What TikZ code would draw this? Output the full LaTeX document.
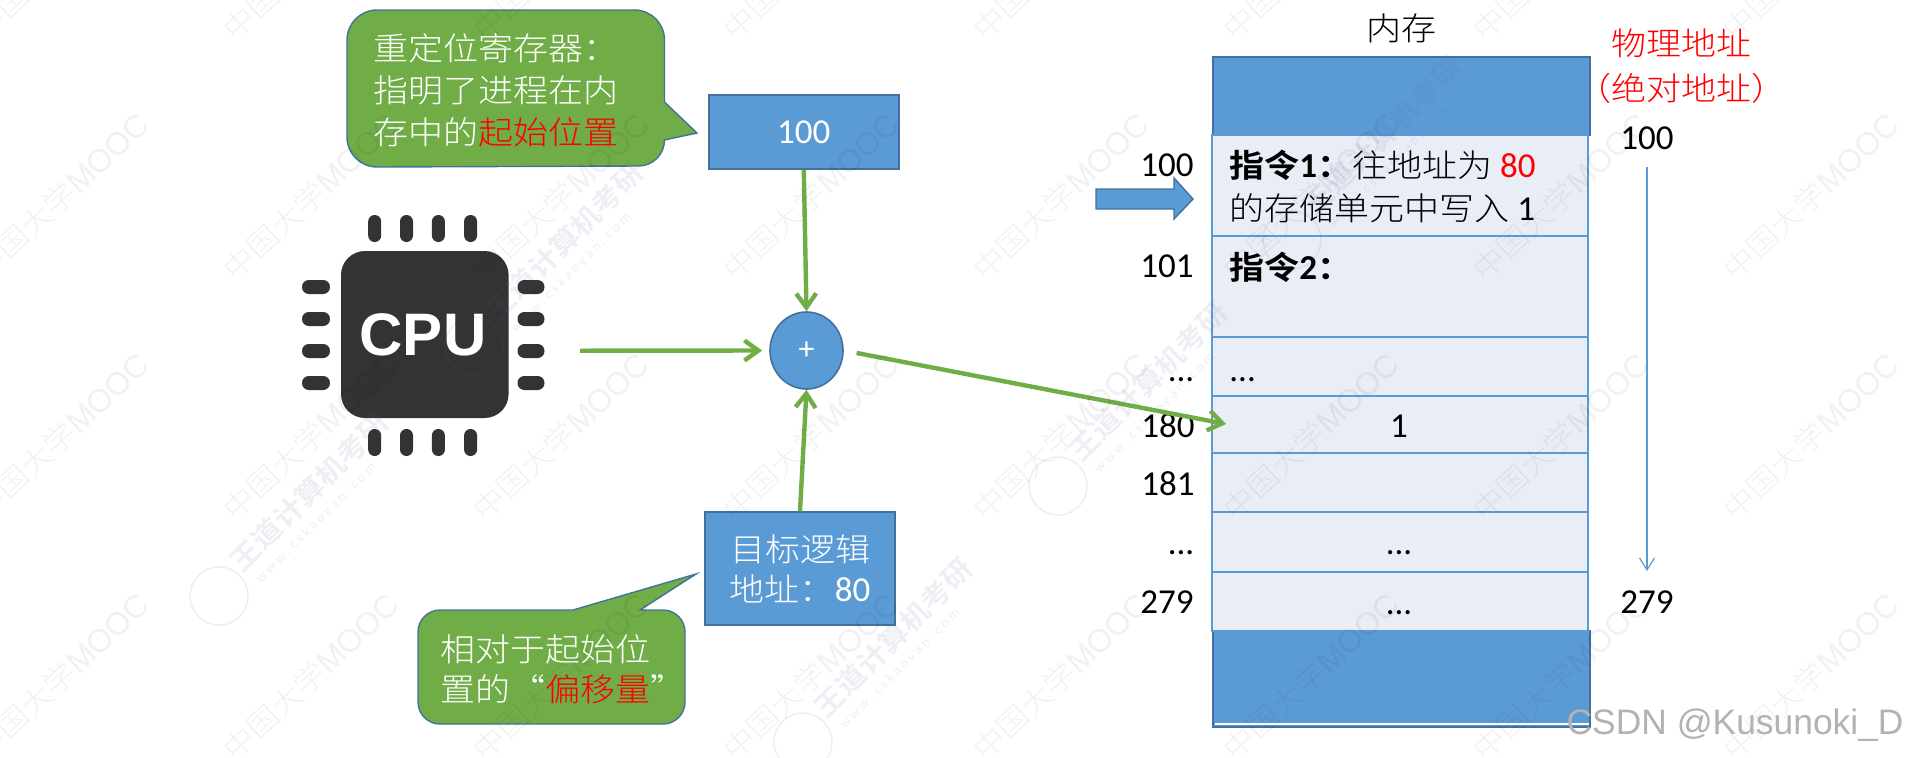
\documentclass[tikz,border=0pt]{standalone}
\usepackage{fontspec}
\setmainfont{Carlito}
\newfontfamily\cjk[Scale=0.914,FakeStretch=1.094,UprightFont={* Light},BoldFont={* Bold}]{Noto Sans CJK SC}
\newfontfamily\arialfont{Liberation Sans}
\usetikzlibrary{arrows.meta, shapes.geometric}
\definecolor{pptblue}{HTML}{5B9BD5}
\definecolor{pptedge}{HTML}{41719C}
\definecolor{pptgreen}{HTML}{70AD47}
\definecolor{celllight}{HTML}{E9EDF6}
\definecolor{chipdark}{HTML}{333333}
\definecolor{markblue}{HTML}{5A64A0}

\begin{document}
\begin{tikzpicture}[
        x=0.5pt, y=-0.5pt,
        txt/.style={font=\fontsize{17.5}{21}\selectfont, align=left, inner sep=0pt},
        numlbl/.style={txt, anchor=base},
        bluebox/.style={rectangle, draw=pptedge, fill=pptblue, line width=0.8pt, text=white, inner sep=0pt, align=center, font=\fontsize{17.5}{20}\selectfont},
        memcell/.style={rectangle, draw=pptblue, fill=celllight, line width=1pt, minimum width=188pt, inner sep=0pt},
        memblock/.style={rectangle, fill=pptblue, draw=pptedge, line width=1pt, minimum width=188.3pt, inner sep=0pt},
        bubble/.style={draw=pptedge, fill=pptgreen, line width=0.7pt},
        adder/.style={ellipse, draw=pptedge, fill=pptblue, line width=0.8pt, minimum width=36.5pt, minimum height=38.5pt, inner sep=0pt, text=white, font=\fontsize{16}{16}\selectfont},
        wire/.style={draw=pptgreen, line width=2.2pt, -{Straight Barb[length=7pt, width=10pt]}},
        watermark/.style={text=black, text opacity=0.055, rotate=43, inner sep=0pt, font=\fontsize{16}{16}\selectfont},
        logomark/.style={text=markblue, text opacity=0.1, rotate=45, inner sep=0pt, anchor=west, font=\fontsize{15}{15}\selectfont},
    ]
    \path[use as bounding box, clip] (0,0) rectangle (1907,757);

    \node[memblock, minimum height=39pt] (memtop) at (1401.7,96) {};
    \node[memblock, minimum height=48pt] (membot) at (1401.7,678.5) {};
    \draw[white, line width=0.6pt] (1215,724) -- (1589,724);
    \foreach \name/\ya/\yb in {c100/135/236, c101/236/337, cdots/337/395.7, c180/395.7/453, c181/453/512, cmore/512/571.7, c279/571.7/630.7}
        \node[memcell, minimum height={(\yb-\ya)*0.5pt}] (\name) at (1400,{(\ya+\yb)/2}) {};

    \node[txt, text=black] (memname) at (1401.7,28) {{\cjk 内存}};
    \node[txt, text=red, align=center] (physname) at (1681,66) {{\cjk 物理地址}\\[1.5pt]{\cjk （绝对地址）}};

    \node[txt, anchor=west, font=\fontsize{17.5}{21.5}\selectfont] (instr1) at (1229,186.5) {\textbf{{\cjk\bfseries 指令}1{\cjk\bfseries ：}}{\cjk 往地址为} \textcolor{red}{80}\\{\cjk 的存储单元中写入} 1};
    \node[txt, anchor=west] (instr2) at (1229,267) {\textbf{{\cjk\bfseries 指令}2{\cjk\bfseries ：}}};
    \node[txt, anchor=base west] (celldots) at (1229,381) {...};
    \node[numlbl] (cellone) at (1399,437) {1};
    \node[numlbl] (moredots) at (1399,554) {...};
    \node[numlbl] (lastdots) at (1399,614) {...};

    \node[numlbl] (lbl100) at (1167,176) {100};
    \node[numlbl] (lbl101) at (1167,277) {101};
    \node[numlbl] (lbldots) at (1181,381) {...};
    \node[numlbl] (lbl180) at (1168,437) {180};
    \node[numlbl] (lbl181) at (1168,495) {181};
    \node[numlbl] (lblmore) at (1181,554) {...};
    \node[numlbl] (lbl279) at (1167,613) {279};
    \node[numlbl] (abs100) at (1647,149) {100};
    \node[numlbl] (abs279) at (1647,613) {279};
    \coordinate (rangetop) at (1647,167);
    \coordinate (rangeend) at (1647,571);
    \draw[pptblue, line width=0.6pt, -{Straight Barb[length=6pt, width=7.5pt]}] (rangetop) -- (rangeend);

    \draw[draw=pptedge, fill=pptblue, line width=0.7pt] (1096,189) -- (1174,189) -- (1174,178) -- (1193,199) -- (1174,219) -- (1174,209) -- (1096,209) -- cycle;

    \draw[bubble] (347,40) arc[start angle=180, end angle=90, radius=15pt] -- (634.5,10) arc[start angle=90, end angle=0, radius=15pt] -- (664.5,102) -- (697,133) -- (664.5,140) arc[start angle=0, end angle=-90, radius=13pt] -- (377,167) arc[start angle=-90, end angle=-180, radius=15pt] -- cycle;
    \node[txt, text=white, anchor=west] (regnote) at (373,90) {{\cjk 重定位寄存器：}\\{\cjk 指明了进程在内}\\{\cjk 存中的\textcolor{red}{起始位置}}};
    \draw[bubble] (418,632) arc[start angle=180, end angle=90, radius=11pt] -- (573,610) -- (696,574) -- (640,610) -- (663,610) arc[start angle=90, end angle=0, radius=11pt] -- (685,702) arc[start angle=0, end angle=-90, radius=11pt] -- (440,724) arc[start angle=-90, end angle=-180, radius=11pt] -- cycle;
    \node[txt, text=white, anchor=west] (offsetnote) at (440,669) {{\cjk 相对于起始位}\\[-1pt]{\cjk 置的“\textcolor{red}{偏移量}”}};

    \node[bluebox, minimum width=95pt, minimum height=37pt] (base100) at (803.8,132) {100};
    \node[bluebox, minimum width=95pt, minimum height=56.5pt] (logical) at (800,568.5) {{\cjk 目标逻辑}\\{\cjk 地址：}80};
    \node[adder] (plus) at (806.5,350.5) {+};

    \fill[chipdark, rounded corners=12pt] (341,251) rectangle (508.6,418);
    \foreach \px in {374.7,406.5,438.4,470.6} {
        \fill[chipdark, rounded corners=3.2pt] ({\px-6.5},215) rectangle ({\px+6.5},242);
        \fill[chipdark, rounded corners=3.2pt] ({\px-6.5},429) rectangle ({\px+6.5},456);
    }
    \foreach \py in {287,319,351,383} {
        \fill[chipdark, rounded corners=3.4pt] (302,{\py-7}) rectangle (330,{\py+7});
        \fill[chipdark, rounded corners=3.4pt] (517.5,{\py-7}) rectangle (544.5,{\py+7});
    }
    \node[text=white, inner sep=0pt, font=\arialfont\bfseries\fontsize{30}{30}\selectfont] (cpu) at (423,335) {CPU};

    \coordinate (cpuport) at (580,350.7);
    \coordinate (cellin) at (1226,424);
    \draw[wire] (base100.south) -- (plus.north);
    \draw[wire, shorten >=3.5pt] (cpuport) -- (plus.west);
    \draw[wire] (logical.north) -- (plus.south);
    \draw[wire, shorten <=6.5pt] (plus.east) -- (cellin);

    \foreach \i in {0,...,7}
        \foreach \j in {-1,...,2}
            \node[watermark] (wm\i\j) at ({61+250*\i},{197+240*\j}) {{\cjk 中国大学}\arialfont MOOC};
    \foreach \k/\lx/\ly in {a/219/596, b/474/346, c/803/742, d/1058/486, e/1292/240} {
        \node[circle, draw=markblue, draw opacity=0.1, line width=0.8pt, minimum size=29pt, inner sep=0pt] (logo\k) at (\lx,\ly) {};
        \node[logomark] (brand\k) at ({\lx+16},{\ly-30}) {{\cjk\bfseries 王道计算机考研}};
        \node[logomark, font=\fontsize{7}{7}\selectfont] (site\k) at ({\lx+39},{\ly-15}) {w w w . c s k a o y a n . c o m};
    }

    \node[text=black!30, inner sep=0pt, anchor=east, font=\arialfont\fontsize{17.7}{18}\selectfont] (csdn) at (1904,725) {CSDN @Kusunoki\_D};
\end{tikzpicture}
\end{document}
